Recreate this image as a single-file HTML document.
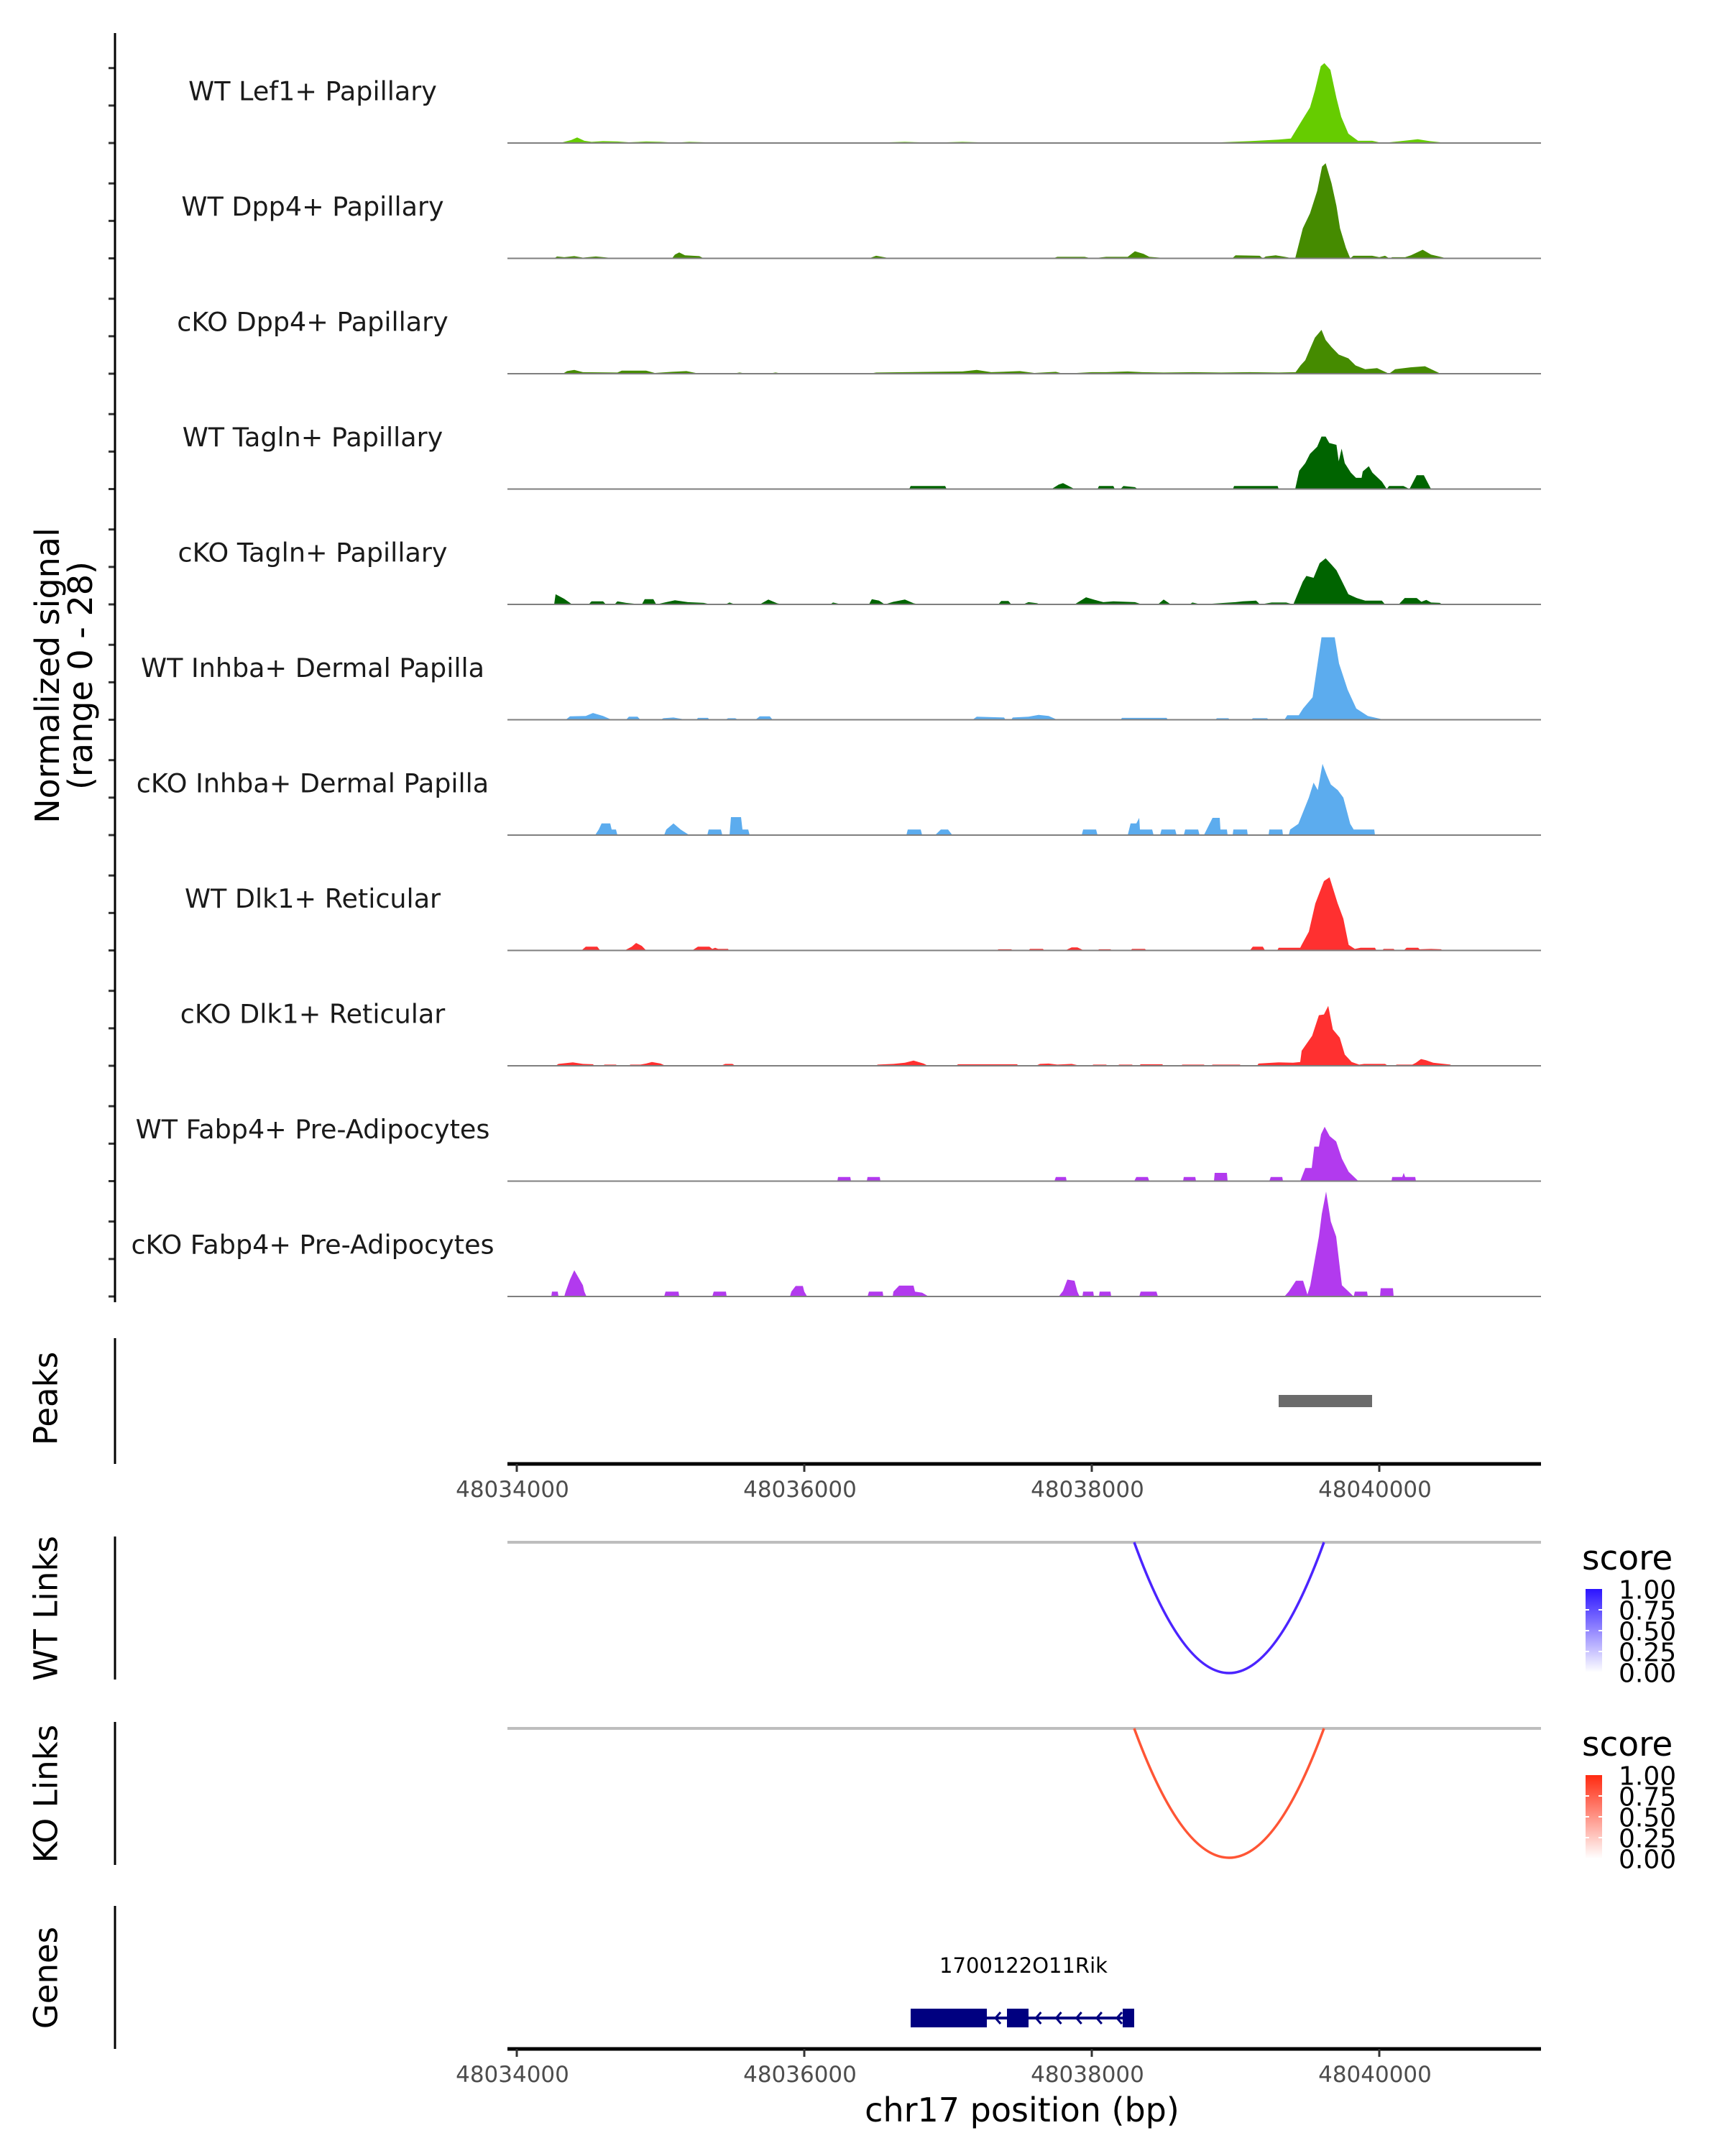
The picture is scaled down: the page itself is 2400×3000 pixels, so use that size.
<!DOCTYPE html>
<html><head><meta charset="utf-8"><style>
html,body{margin:0;padding:0;background:#fff;}
svg{display:block;font-family:"DejaVu Sans","Liberation Sans",sans-serif;}
</style></head><body>
<svg id="chart" width="2400" height="3000" viewBox="0 0 2400 3000" xmlns="http://www.w3.org/2000/svg">
<defs>
<linearGradient id="gWT" x1="0" y1="1" x2="0" y2="0"><stop offset="0" stop-color="#ffffff"/><stop offset="1" stop-color="#2b14ff"/></linearGradient>
<linearGradient id="gKO" x1="0" y1="1" x2="0" y2="0"><stop offset="0" stop-color="#ffffff"/><stop offset="1" stop-color="#ff2a10"/></linearGradient>
</defs>
<g id="tracks"></g>
<text transform="translate(66,940) rotate(-90)" text-anchor="middle" dominant-baseline="central" font-size="46" fill="#000">Normalized signal</text>
<text transform="translate(112,940) rotate(-90)" text-anchor="middle" dominant-baseline="central" font-size="46" fill="#000">(range 0 - 28)</text>
<line x1="160" y1="46" x2="160" y2="1812" stroke="#000" stroke-width="3"/>
<text transform="translate(64,1946) rotate(-90)" text-anchor="middle" dominant-baseline="central" font-size="45">Peaks</text>
<line x1="160" y1="1862" x2="160" y2="2037" stroke="#000" stroke-width="3"/>
<g id="peaks"></g>
<g id="axis1"></g>
<text transform="translate(64,2238) rotate(-90)" text-anchor="middle" dominant-baseline="central" font-size="45">WT Links</text>
<line x1="160" y1="2138" x2="160" y2="2337" stroke="#000" stroke-width="3"/>
<text transform="translate(64,2496) rotate(-90)" text-anchor="middle" dominant-baseline="central" font-size="45">KO Links</text>
<line x1="160" y1="2396" x2="160" y2="2595" stroke="#000" stroke-width="3"/>
<g id="links"></g>
<text transform="translate(64,2752) rotate(-90)" text-anchor="middle" dominant-baseline="central" font-size="45">Genes</text>
<line x1="160" y1="2652" x2="160" y2="2851" stroke="#000" stroke-width="3"/>
<g id="genes"></g>
<g id="axis2"></g>
<text x="1422" y="2952" text-anchor="middle" font-size="46" fill="#000">chr17 position (bp)</text>
<g>
<text x="2201" y="2184" font-size="47">score</text>
<rect x="2206" y="2211" width="23" height="116" fill="url(#gWT)"/>
<g stroke="#fff" stroke-width="2"><line x1="2206" y1="2240" x2="2211" y2="2240"/><line x1="2224" y1="2240" x2="2229" y2="2240"/><line x1="2206" y1="2269" x2="2211" y2="2269"/><line x1="2224" y1="2269" x2="2229" y2="2269"/><line x1="2206" y1="2298" x2="2211" y2="2298"/><line x1="2224" y1="2298" x2="2229" y2="2298"/></g>
<g font-size="36" fill="#000" dominant-baseline="central"><text x="2252" y="2213">1.00</text><text x="2252" y="2242">0.75</text><text x="2252" y="2271">0.50</text><text x="2252" y="2300">0.25</text><text x="2252" y="2329">0.00</text></g>
</g>
<g>
<text x="2201" y="2443" font-size="47">score</text>
<rect x="2206" y="2470" width="23" height="116" fill="url(#gKO)"/>
<g stroke="#fff" stroke-width="2"><line x1="2206" y1="2499" x2="2211" y2="2499"/><line x1="2224" y1="2499" x2="2229" y2="2499"/><line x1="2206" y1="2528" x2="2211" y2="2528"/><line x1="2224" y1="2528" x2="2229" y2="2528"/><line x1="2206" y1="2557" x2="2211" y2="2557"/><line x1="2224" y1="2557" x2="2229" y2="2557"/></g>
<g font-size="36" fill="#000" dominant-baseline="central"><text x="2252" y="2472">1.00</text><text x="2252" y="2501">0.75</text><text x="2252" y="2530">0.50</text><text x="2252" y="2559">0.25</text><text x="2252" y="2588">0.00</text></g>
</g>
</svg>
<script>
const NS = "http://www.w3.org/2000/svg";
const trackNames = ["WT Lef1+ Papillary","WT Dpp4+ Papillary","cKO Dpp4+ Papillary","WT Tagln+ Papillary","cKO Tagln+ Papillary","WT Inhba+ Dermal Papilla","cKO Inhba+ Dermal Papilla","WT Dlk1+ Reticular","cKO Dlk1+ Reticular","WT Fabp4+ Pre-Adipocytes","cKO Fabp4+ Pre-Adipocytes"];
const trackColors = ["#66cc00","#458b00","#458b00","#006400","#006400","#5cacee","#5cacee","#ff3030","#ff3030","#b23aee","#b23aee"];
const xTicks = [48034000,48036000,48038000,48040000];
const peakRegions = [[48039300,48039950]];
const wtLinks = [[48038295,48039615,0.85]];
const koLinks = [[48038295,48039615,0.75]];
const geneName = "1700122O11Rik";
const geneExons = [[48036740,48037270],[48037410,48037560],[48038215,48038295]];
const geneSpan = [48036740,48038295];
const sigMax = 28;

const lef1 = [[48034300,0],[48034380,0.8],[48034420,1.5],[48034470,0.6],[48034520,0.3],[48034600,0.5],[48034700,0.4],[48034780,0.2],[48034900,0.4],[48035000,0.3],[48035100,0.1],[48035200,0.3],[48035400,0.1],[48035700,0.2],[48036300,0.2],[48036500,0.1],[48036700,0.3],[48036900,0.1],[48037100,0.3],[48037300,0.1],[48037500,0.2],[48038000,0.1],[48038900,0.2],[48039100,0.5],[48039300,0.9],[48039385,1.2],[48039468,6.4],[48039518,9.5],[48039552,14],[48039593,20.5],[48039618,21.3],[48039660,19.5],[48039702,12],[48039735,7],[48039785,2.5],[48039852,0.6],[48039950,0.6],[48040020,0],[48040150,0.5],[48040268,1.0],[48040350,0.5],[48040450,0.1],[48040500,0]];
const dpp4WT = [[48034260,0],[48034280,0.5],[48034330,0.3],[48034400,0.6],[48034460,0.2],[48034550,0.5],[48034690,0],[48035080,0],[48035100,1.0],[48035130,1.6],[48035170,0.8],[48035270,0.6],[48035300,0],[48036450,0],[48036500,0.7],[48036600,0],[48037730,0],[48037760,0.4],[48037950,0.4],[48038000,0],[48038100,0.4],[48038250,0.4],[48038300,1.9],[48038360,1.2],[48038400,0.4],[48038540,0],[48038977,0],[48039000,0.8],[48039168,0.7],[48039190,0],[48039210,0.5],[48039280,0.8],[48039343,0.4],[48039400,0],[48039415,0],[48039468,8],[48039518,12],[48039568,18],[48039602,24.5],[48039627,25.4],[48039668,20],[48039702,14],[48039727,8],[48039768,2.8],[48039798,0],[48039820,0.7],[48039950,0.7],[48040000,0.3],[48040040,0.7],[48040070,0],[48040090,0.3],[48040180,0.3],[48040220,0.8],[48040302,2.3],[48040360,1.0],[48040470,0]];
const dpp4KO = [[48034320,0],[48034350,0.7],[48034400,1.0],[48034460,0.4],[48034700,0.3],[48034730,0.8],[48034900,0.8],[48034960,0.2],[48035080,0.5],[48035180,0.7],[48035270,0],[48035500,0],[48035550,0.3],[48035600,0],[48035750,0],[48035800,0.3],[48035850,0],[48036450,0],[48036500,0.3],[48036700,0.4],[48036900,0.5],[48037100,0.6],[48037200,1.0],[48037300,0.4],[48037500,0.7],[48037600,0.2],[48037750,0.5],[48037800,0],[48038000,0.4],[48038100,0.4],[48038250,0.6],[48038350,0.4],[48038500,0.3],[48038700,0.4],[48038900,0.3],[48039100,0.4],[48039300,0.3],[48039418,0.4],[48039452,2.2],[48039485,3.6],[48039518,6.6],[48039552,9.6],[48039598,11.7],[48039627,9],[48039668,7.1],[48039718,5.1],[48039785,4.1],[48039835,2.2],[48039902,1.2],[48039985,1.5],[48040068,0],[48040110,1.2],[48040218,1.7],[48040318,2],[48040427,0]];
const taglnWT = [[48036730,0],[48036740,0.8],[48036980,0.8],[48036990,0],[48037720,0],[48037770,1.2],[48037800,1.6],[48037850,0.6],[48037880,0],[48038040,0],[48038050,0.8],[48038150,0.8],[48038160,0],[48038200,0],[48038220,0.8],[48038300,0.5],[48038320,0],[48038982,0],[48038990,0.8],[48039293,0.8],[48039300,0],[48039415,0],[48039443,4.9],[48039485,6.9],[48039518,9.4],[48039568,11.3],[48039598,14],[48039627,14],[48039652,12.3],[48039702,11.8],[48039718,7.4],[48039738,10.8],[48039760,6.9],[48039802,4.4],[48039838,3],[48039877,3],[48039885,4.7],[48039927,6.1],[48039952,4.4],[48040018,2],[48040052,0],[48040068,0.8],[48040168,0.8],[48040210,0],[48040260,3.7],[48040310,3.7],[48040360,0]];
const taglnKO = [[48034260,0],[48034270,2.7],[48034330,1.5],[48034385,0],[48034500,0],[48034520,0.8],[48034600,0.8],[48034620,0],[48034680,0],[48034700,0.8],[48034760,0.4],[48034870,0],[48034890,1.4],[48034950,1.4],[48034970,0],[48035040,0.6],[48035100,1.1],[48035190,0.6],[48035300,0.4],[48035350,0],[48035450,0],[48035480,0.5],[48035520,0],[48035690,0],[48035750,1.3],[48035810,0.3],[48035850,0],[48036180,0],[48036200,0.5],[48036260,0],[48036450,0],[48036470,1.4],[48036520,1.0],[48036560,0],[48036620,0.7],[48036700,1.3],[48036760,0.3],[48036800,0],[48037350,0],[48037370,0.9],[48037420,0.9],[48037440,0],[48037520,0],[48037560,0.6],[48037620,0.3],[48037640,0],[48037880,0],[48037960,1.9],[48038040,1.0],[48038080,0.6],[48038150,0.8],[48038300,0.6],[48038350,0],[48038460,0],[48038500,1.3],[48038550,0],[48038680,0],[48038700,0.5],[48038760,0],[48039000,0.6],[48039050,0.8],[48039143,1],[48039170,0],[48039252,0.5],[48039352,0.5],[48039402,0],[48039468,6.1],[48039493,7.6],[48039543,7.1],[48039585,11],[48039627,12.3],[48039668,10.6],[48039702,9.1],[48039735,6.6],[48039785,2.7],[48039843,1.7],[48039902,1],[48040018,1],[48040040,0],[48040135,0],[48040177,1.7],[48040260,1.7],[48040293,0.7],[48040327,1.2],[48040360,0.5],[48040420,0.4],[48040440,0]];
const inhbaWT = [[48034340,0],[48034370,0.9],[48034480,1.0],[48034530,1.8],[48034600,1.0],[48034660,0],[48034760,0],[48034780,0.8],[48034840,0.8],[48034860,0],[48035000,0],[48035020,0.4],[48035090,0.6],[48035180,0],[48035250,0],[48035260,0.5],[48035330,0.5],[48035340,0],[48035450,0],[48035470,0.4],[48035520,0.4],[48035540,0],[48035660,0],[48035690,0.9],[48035760,0.9],[48035780,0],[48037170,0],[48037200,0.8],[48037390,0.6],[48037400,0],[48037440,0],[48037450,0.6],[48037560,0.8],[48037630,1.3],[48037700,1.0],[48037760,0],[48038200,0],[48038210,0.5],[48038520,0.5],[48038530,0],[48038860,0],[48038870,0.4],[48038950,0.4],[48038960,0],[48039110,0],[48039120,0.4],[48039220,0.4],[48039230,0],[48039340,0],[48039360,1.2],[48039440,1.2],[48039470,3],[48039536,6],[48039598,22],[48039690,22],[48039720,15],[48039780,8],[48039840,3],[48039920,1],[48040035,0]];
const inhbaKO = [[48034545,0],[48034570,1.5],[48034590,3.1],[48034650,3.1],[48034660,1.5],[48034690,1.5],[48034700,0],[48035025,0],[48035040,1.5],[48035090,3.1],[48035140,1.5],[48035200,0],[48035325,0],[48035335,1.5],[48035420,1.5],[48035430,0],[48035480,0],[48035490,4.8],[48035560,4.8],[48035570,1.5],[48035610,1.5],[48035620,0],[48036710,0],[48036720,1.5],[48036810,1.5],[48036820,0],[48036910,0],[48036950,1.5],[48037000,1.5],[48037030,0],[48037930,0],[48037940,1.5],[48038030,1.5],[48038040,0],[48038250,0],[48038270,3.1],[48038310,3.1],[48038330,4.6],[48038335,1.5],[48038420,1.5],[48038430,0],[48038475,0],[48038485,1.5],[48038580,1.5],[48038590,0],[48038640,0],[48038650,1.5],[48038740,1.5],[48038750,0],[48038780,0],[48038840,4.6],[48038890,4.6],[48038895,1.5],[48038940,1.5],[48038945,0],[48038980,0],[48038985,1.5],[48039080,1.5],[48039085,0],[48039230,0],[48039235,1.5],[48039325,1.5],[48039330,0],[48039370,0],[48039380,1.5],[48039437,3],[48039510,10],[48039543,14],[48039572,12],[48039605,19],[48039635,16],[48039663,13.5],[48039711,12],[48039750,10],[48039798,3],[48039822,1.5],[48039965,1.5],[48039970,0]];
const dlk1WT = [[48034450,0],[48034480,1],[48034560,1],[48034580,0],[48034750,0],[48034800,1.0],[48034830,2],[48034870,1.2],[48034900,0],[48035220,0],[48035260,1],[48035340,1],[48035360,0.4],[48035380,0.7],[48035400,0.4],[48035470,0.4],[48035475,0],[48037340,0],[48037350,0.3],[48037440,0.3],[48037450,0],[48037560,0],[48037570,0.4],[48037660,0.4],[48037670,0],[48037815,0],[48037860,0.8],[48037900,0.8],[48037945,0],[48038040,0],[48038050,0.3],[48038130,0.3],[48038140,0],[48038270,0],[48038280,0.4],[48038370,0.4],[48038380,0],[48039100,0],[48039120,1],[48039190,1],[48039205,0],[48039290,0],[48039300,0.7],[48039450,0.7],[48039460,1.5],[48039510,5],[48039555,12.5],[48039615,18.5],[48039654,19.5],[48039710,12.6],[48039750,8.5],[48039787,1.5],[48039830,0.4],[48039870,0.7],[48039970,0.7],[48039980,0],[48040020,0],[48040030,0.4],[48040100,0.4],[48040110,0],[48040170,0],[48040190,0.7],[48040270,0.7],[48040280,0.3],[48040360,0.4],[48040430,0.3],[48040440,0]];
const dlk1KO = [[48034270,0],[48034290,0.5],[48034390,0.9],[48034460,0.5],[48034530,0.4],[48034540,0],[48034600,0],[48034610,0.3],[48034690,0.3],[48034700,0],[48034780,0],[48034790,0.3],[48034860,0.3],[48034900,0.6],[48034940,1.0],[48035000,0.6],[48035035,0],[48035420,0],[48035450,0.5],[48035500,0.5],[48035520,0],[48036500,0],[48036510,0.3],[48036620,0.5],[48036700,0.8],[48036760,1.4],[48036830,0.6],[48036860,0],[48037055,0],[48037070,0.4],[48037480,0.4],[48037490,0],[48037610,0],[48037640,0.5],[48037700,0.6],[48037760,0.3],[48037860,0.5],[48037920,0],[48038000,0],[48038010,0.3],[48038100,0.3],[48038110,0],[48038180,0],[48038190,0.3],[48038280,0.3],[48038290,0],[48038330,0],[48038340,0.4],[48038490,0.4],[48038500,0],[48038620,0],[48038630,0.3],[48038780,0.3],[48038790,0],[48038830,0],[48038840,0.3],[48039030,0.3],[48039040,0],[48039150,0],[48039160,0.6],[48039300,0.9],[48039400,0.8],[48039450,1.0],[48039460,4],[48039533,8],[48039580,13.5],[48039615,13.7],[48039645,16],[48039677,9.7],[48039725,7.5],[48039760,3],[48039808,1],[48039860,0.3],[48039895,0.5],[48040040,0.5],[48040060,0],[48040110,0],[48040120,0.3],[48040230,0.3],[48040255,0.8],[48040290,1.8],[48040325,1.5],[48040375,0.8],[48040495,0.3],[48040500,0]];
const fabp4WT = [[48036230,0],[48036235,1.1],[48036320,1.1],[48036325,0],[48036435,0],[48036440,1.1],[48036525,1.1],[48036530,0],[48037740,0],[48037750,1.1],[48037820,1.1],[48037825,0],[48038295,0],[48038310,1.1],[48038390,1.1],[48038400,0],[48038635,0],[48038640,1.1],[48038720,1.1],[48038725,0],[48038850,0],[48038855,2.2],[48038940,2.2],[48038945,0],[48039235,0],[48039245,1.1],[48039325,1.1],[48039330,0],[48039450,0],[48039485,3.5],[48039530,3.5],[48039548,9.2],[48039580,9.2],[48039595,12.5],[48039620,14.5],[48039655,12],[48039700,10.6],[48039740,6],[48039787,2.5],[48039855,0],[48040085,0],[48040090,1.1],[48040160,1.1],[48040170,2.2],[48040180,1.1],[48040250,1.1],[48040255,0]];
const fabp4KO = [[48034240,0],[48034245,1.3],[48034285,1.3],[48034290,0],[48034330,0],[48034340,1.3],[48034370,4.5],[48034400,7],[48034430,5],[48034460,3],[48034470,1.3],[48034485,0],[48035025,0],[48035035,1.3],[48035125,1.3],[48035130,0],[48035360,0],[48035370,1.3],[48035455,1.3],[48035460,0],[48035900,0],[48035910,1.3],[48035940,2.8],[48035990,2.8],[48036000,1.3],[48036020,0],[48036440,0],[48036450,1.3],[48036545,1.3],[48036550,0],[48036615,0],[48036620,1.3],[48036660,2.9],[48036760,2.9],[48036770,1.3],[48036820,1.0],[48036865,0],[48037770,0],[48037800,1.5],[48037830,4.5],[48037880,4.2],[48037900,1.3],[48037915,0],[48037935,0],[48037940,1.3],[48038010,1.3],[48038015,0],[48038050,0],[48038055,1.3],[48038130,1.3],[48038135,0],[48038330,0],[48038340,1.3],[48038450,1.3],[48038460,0],[48039340,0],[48039370,1.3],[48039420,4.2],[48039470,4.2],[48039500,0.5],[48039520,3],[48039543,8],[48039580,16],[48039600,22],[48039630,28],[48039663,20],[48039700,16],[48039740,3],[48039787,1.3],[48039822,0],[48039830,1.3],[48039915,1.3],[48039920,0],[48040005,0],[48040010,2.2],[48040095,2.2],[48040100,0]];
const trackData = [lef1,dpp4WT,dpp4KO,taglnWT,taglnKO,inhbaWT,inhbaKO,dlk1WT,dlk1KO,fabp4WT,fabp4KO];

function x(bp){ return 719 + (bp - 48034000) / 5; }
const X0 = 706, X1 = 2144;
function trackBase(i){ return 199 + i * 160.5; }
function yv(i, v){ return trackBase(i) - v / sigMax * 146; }

function mk(tag, attrs, parent){
  const e = document.createElementNS(NS, tag);
  for (const k in attrs) e.setAttribute(k, attrs[k]);
  parent.appendChild(e);
  return e;
}

const tg = document.getElementById('tracks');
trackData.forEach((data, i) => {
  const g = mk('g', {}, tg);
  
  
  const b = trackBase(i);
  let d = 'M' + x(data[0][0]) + ' ' + b;
  data.forEach(p => { d += ' L' + x(p[0]).toFixed(1) + ' ' + yv(i, p[1]).toFixed(1); });
  d += ' L' + x(data[data.length-1][0]) + ' ' + b + ' Z';
  const area = mk('path', {d: d, fill: trackColors[i], stroke: 'none'}, g);
  
  
  const bl = mk('line', {x1: X0, x2: X1, y1: b, y2: b, stroke: '#7f7f7f', 'stroke-width': 2}, g);
  
  
  const lab = mk('text', {x: 435, y: b - 72, 'text-anchor': 'middle', 'dominant-baseline': 'central', 'font-size': 36.5, fill: '#1a1a1a'}, g);
  lab.textContent = trackNames[i];
  
  
  [0, 10, 20].forEach(t => {
    const tk = mk('line', {x1: 151, x2: 160, y1: yv(i, t), y2: yv(i, t), stroke: '#333', 'stroke-width': 3}, g);
    
    
  });
});

const pg = document.getElementById('peaks');
peakRegions.forEach(r => {
  const rc = mk('rect', {x: x(r[0]), y: 1941, width: x(r[1]) - x(r[0]), height: 17, fill: '#6b6b6b'}, pg);
  
  
});

function axis(id, y){
  const g = document.getElementById(id);
  const l = mk('line', {x1: X0, x2: X1, y1: y, y2: y, stroke: '#000', 'stroke-width': 5}, g);
  
  
  xTicks.forEach(t => {
    const tk = mk('line', {x1: x(t), x2: x(t), y1: y, y2: y + 11, stroke: '#333', 'stroke-width': 3}, g);
    
    
    const tx = mk('text', {x: x(t) - 6, y: y + 46, 'text-anchor': 'middle', 'font-size': 31, fill: '#4d4d4d'}, g);
    tx.textContent = String(t);
    
    
  });
}
axis('axis1', 2037);
axis('axis2', 2851);

const lg = document.getElementById('links');
function drawLinks(arr, y0, depth, color, nm){
  const gl = mk('line', {x1: X0, x2: X1, y1: y0, y2: y0, stroke: '#bebebe', 'stroke-width': 4}, lg);
  
  
  arr.forEach(l => {
    const a = x(l[0]), b = x(l[1]);
    const c = y0 + depth * 2;
    const p = mk('path', {d: 'M' + a + ' ' + y0 + ' Q' + ((a + b) / 2) + ' ' + c + ' ' + b + ' ' + y0, fill: 'none', stroke: color, 'stroke-width': 3.5}, lg);
    
    
  });
}
drawLinks(wtLinks, 2146, 182, '#4b24ff', 'wt-link');
drawLinks(koLinks, 2405, 180, '#ff5535', 'ko-link');

const gg = document.getElementById('genes');
const gl2 = mk('text', {x: 1424, y: 2745, 'text-anchor': 'middle', 'font-size': 29, fill: '#000'}, gg);
gl2.textContent = geneName;


const intr = mk('line', {x1: x(geneSpan[0]), x2: x(geneSpan[1]), y1: 2808, y2: 2808, stroke: '#000080', 'stroke-width': 4}, gg);


geneExons.forEach(e => {
  const r = mk('rect', {x: x(e[0]), y: 2795, width: x(e[1]) - x(e[0]), height: 26, fill: '#000080'}, gg);
  
  
});
for (let k = 0; k < 7; k++) {
  const ax = x(geneExons[0][1]) + 12 + k * ((x(geneExons[2][0]) - x(geneExons[0][1]) - 20) / 6);
  if (ax > x(geneExons[1][0]) - 6 && ax < x(geneExons[1][1]) + 6) continue;
  const ar = mk('path', {d: 'M' + (ax + 7) + ' 2800 L' + ax + ' 2808 L' + (ax + 7) + ' 2816', fill: 'none', stroke: '#000080', 'stroke-width': 3}, gg);
  
  
}
</script>
</body></html>
